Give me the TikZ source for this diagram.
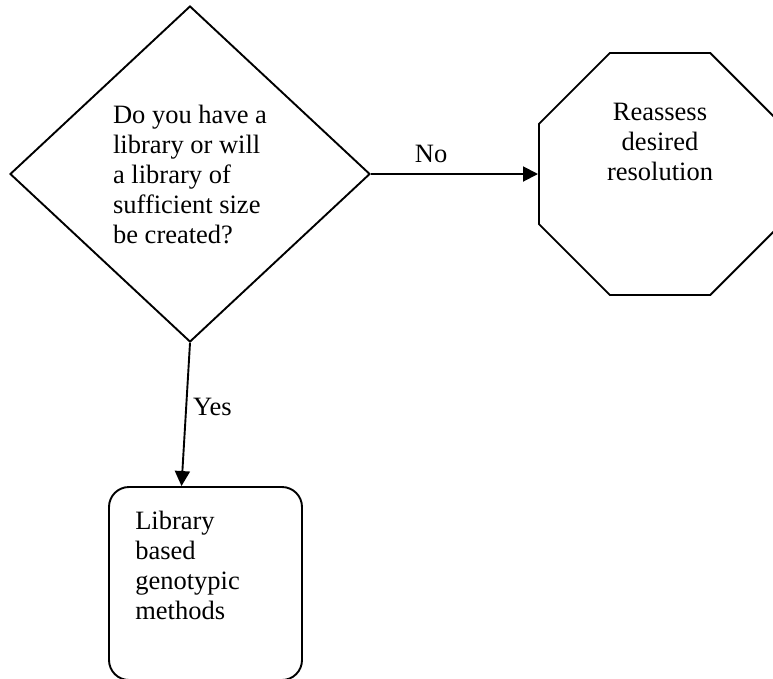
\documentclass[tikz,border=0pt]{standalone}
\usepackage{fontspec}
\setmainfont{Liberation Serif}
\usetikzlibrary{shapes.geometric,arrows.meta}

\begin{document}
\begin{tikzpicture}[x=1pt,y=-1pt,
		box/.style={draw, line width=1.9pt, inner sep=0pt},
		txt/.style={font=\fontsize{26.5}{30}\selectfont, inner sep=0pt},
		pfeil/.style={line width=1.9pt, -{Triangle[length=15pt,width=15pt]}}]
			\useasboundingbox (0,0) rectangle (773,678);

			% Raute mit Frage
			\node[box, txt, diamond, align=left, minimum width=360pt, minimum height=336pt] (frage) at (190,174)
				{Do you have a\\library or will\\a library of\\sufficient size\\be created?};

			% Achteck rechts
			\node[box, regular polygon, regular polygon sides=8, minimum size=262pt] (neu) at (660,174) {};
			\node[txt, align=center] (neutext) at ([yshift=32pt]neu.center) {Reassess\\desired\\resolution};

			% Kasten unten
			\node[box, rounded corners=20pt, minimum width=193pt, minimum height=193pt] (methode) at (205.5,583.5) {};
			\node[txt, align=left, anchor=north west] (methodetext) at ([xshift=27pt,yshift=-25pt]methode.north west)
				{Library\\based\\genotypic\\methods};

			% Pfeile
			\draw[pfeil] (frage.east) -- node[txt, pos=0.36, above=10pt] {No} (neu.west);
			\draw[pfeil] (frage.south) -- node[txt, pos=0.45, right=6pt] {Yes} ([xshift=-24pt]methode.north);

		\end{tikzpicture}
\end{document}
